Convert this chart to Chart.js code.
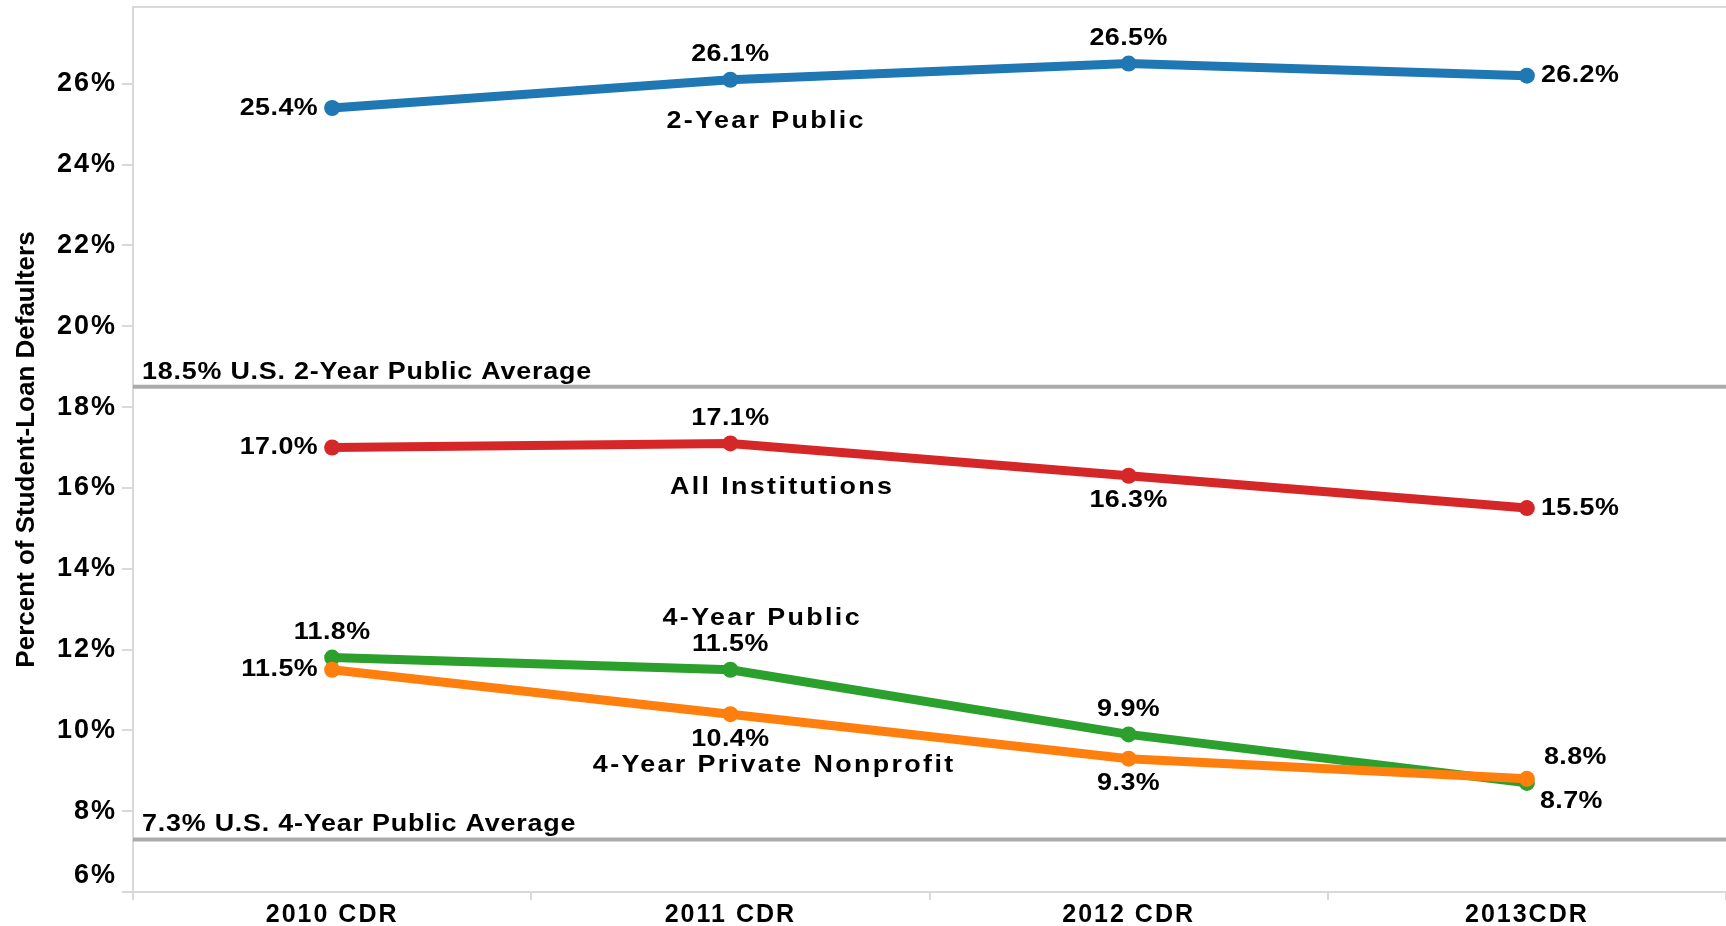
<!DOCTYPE html>
<html>
<head>
<meta charset="utf-8">
<script src="https://cdn.jsdelivr.net/npm/chart.js@4.4.1/dist/chart.umd.min.js"></script>
<style>
  html, body { margin: 0; padding: 0; background: #fff; }
  #chart { display: block; }
</style>
</head>
<body>
<canvas id="chart" width="1726" height="926"></canvas>
<script>
// cohort default rates by sector
const years = ['2010 CDR', '2011 CDR', '2012 CDR', '2013CDR'];
const twoYearPublic = [25.4, 26.1, 26.5, 26.2];
const allInstitutions = [17.0, 17.1, 16.3, 15.5];
const fourYearPublic = [11.8, 11.5, 9.9, 8.7];
const fourYearPrivate = [11.5, 10.4, 9.3, 8.8];
const seriesNames = ['2-Year Public', 'All Institutions', '4-Year Public', '4-Year Private Nonprofit'];
const yTicks = [6, 8, 10, 12, 14, 16, 18, 20, 22, 24, 26];

// national averages (reference lines)
const avgValues = [18.5, 7.3];
const avgNames = ['U.S. 2-Year Public Average', 'U.S. 4-Year Public Average'];

// where each value label goes, relative to its point
const labelPos = [
  ['left', 'above', 'above', 'right'],
  ['left', 'above', 'below', 'right'],
  ['above', 'above', 'above', 'belowRight'],
  ['left', 'below', 'below', 'aboveRight']
];
// series name anchors: [category index, y value]
const namePos = [[1.09, 25.06], [1.13, 16.02], [1.08, 12.76], [1.11, 9.14]];

const colors = ['#1f77b4', '#d62728', '#2ca02c', '#ff7f0e'];
const FONT = '"Liberation Sans", Arial, Helvetica, sans-serif';
const axisGray = '#d9d9d9';
const STRETCH = 1.12; // text in the original is a bit wide

function wideText(ctx, txt, x, y, align, spacing) {
  ctx.save();
  ctx.letterSpacing = spacing + 'px';
  ctx.translate(x, y);
  ctx.scale(STRETCH, 1);
  ctx.textAlign = align;
  ctx.fillText(txt, 0, 0);
  ctx.restore();
}

const overlay = {
  id: 'overlay',
  beforeDraw(chart) {
    chart.ctx.letterSpacing = '0px';
  },
  beforeDatasetsDraw(chart) {
    const { ctx, chartArea: a, scales: { y } } = chart;
    ctx.save();
    ctx.strokeStyle = axisGray;
    ctx.lineWidth = 2;
    ctx.beginPath();
    ctx.moveTo(a.left, a.top);
    ctx.lineTo(a.right, a.top);
    ctx.stroke();

    ctx.font = 'bold 24px ' + FONT;
    ctx.textBaseline = 'alphabetic';
    ctx.fillStyle = '#000';
    avgValues.forEach((v, i) => {
      const py = y.getPixelForValue(v);
      ctx.strokeStyle = '#ababab';
      ctx.lineWidth = 4;
      ctx.beginPath();
      ctx.moveTo(a.left, py);
      ctx.lineTo(a.right, py);
      ctx.stroke();
      wideText(ctx, v + '% ' + avgNames[i], a.left + 9, py - 8, 'left', 0.7);
    });
    ctx.restore();
  },
  afterDatasetsDraw(chart) {
    const { ctx, scales: { x, y } } = chart;
    ctx.save();
    ctx.fillStyle = '#000';
    ctx.font = 'bold 24px ' + FONT;
    ctx.textBaseline = 'middle';
    chart.data.datasets.forEach((ds, i) => {
      chart.getDatasetMeta(i).data.forEach((pt, j) => {
        const txt = ds.data[j].toFixed(1) + '%';
        let tx = pt.x, ty = pt.y, align = 'center';
        switch (labelPos[i][j]) {
          case 'left': tx -= 14; align = 'right'; break;
          case 'right': tx += 14; align = 'left'; break;
          case 'above': ty -= 25; break;
          case 'below': ty += 25; break;
          case 'belowRight': tx += 13; ty += 18; align = 'left'; break;
          case 'aboveRight': tx += 17; ty -= 21; align = 'left'; break;
        }
        wideText(ctx, txt, tx, ty, align, 0.4);
      });
    });

    // series names
    seriesNames.forEach((name, i) => {
      wideText(ctx, name, x.getPixelForValue(namePos[i][0]), y.getPixelForValue(namePos[i][1]), 'center', 2.1);
    });
    ctx.restore();
    // tick labels (drawn next, z=1) get a little spacing too
    ctx.letterSpacing = '2px';
  },
  afterDraw(chart) {
    chart.ctx.letterSpacing = '0px';
  }
};

const series = [twoYearPublic, allInstitutions, fourYearPublic, fourYearPrivate];

new Chart(document.getElementById('chart'), {
  type: 'line',
  data: {
    labels: years,
    datasets: series.map((vals, i) => ({
      label: seriesNames[i],
      data: vals,
      order: 3 - i,
      borderColor: colors[i],
      backgroundColor: colors[i],
      borderWidth: 9,
      pointRadius: 8,
      pointHoverRadius: 8,
      pointBorderWidth: 0,
      tension: 0,
      fill: false
    }))
  },
  options: {
    responsive: false,
    animation: false,
    devicePixelRatio: 1,
    layout: { autoPadding: false, padding: { top: 7, right: -7, bottom: 0, left: 0 } },
    plugins: {
      legend: { display: false },
      tooltip: { enabled: false }
    },
    scales: {
      x: {
        offset: true,
        afterFit: s => { s.height = 34; s.paddingLeft = 0; s.paddingRight = 0; },
        grid: { offset: true, drawOnChartArea: false, tickLength: 8, color: axisGray, lineWidth: 2 },
        border: { color: axisGray, width: 2 },
        ticks: {
          z: 1,
          font: { family: FONT, size: 25, weight: 'bold', lineHeight: 1 },
          color: '#000',
          padding: 3,
          maxRotation: 0,
          autoSkip: false
        }
      },
      y: {
        min: 6,
        max: 27.9,
        afterBuildTicks: s => { s.ticks = yTicks.map(v => ({ value: v })); },
        afterFit: s => { s.width = 133; s.paddingTop = 0; s.paddingBottom = 0; },
        grid: { drawOnChartArea: false, tickLength: 11, color: axisGray, lineWidth: 2 },
        border: { color: axisGray, width: 2 },
        ticks: {
          z: 1,
          font: { family: FONT, size: 27, weight: 'bold' },
          color: '#000',
          padding: 5,
          // bottom label sits above the axis line, as in the original
          callback: v => v === yTicks[0] ? [v + '%', ''] : v + '%'
        },
        title: {
          display: true,
          text: 'Percent of Student-Loan Defaulters',
          font: { family: FONT, size: 26, weight: 'bold' },
          color: '#000',
          padding: { top: 11, bottom: 0 }
        }
      }
    }
  },
  plugins: [overlay]
});
</script>
</body>
</html>
